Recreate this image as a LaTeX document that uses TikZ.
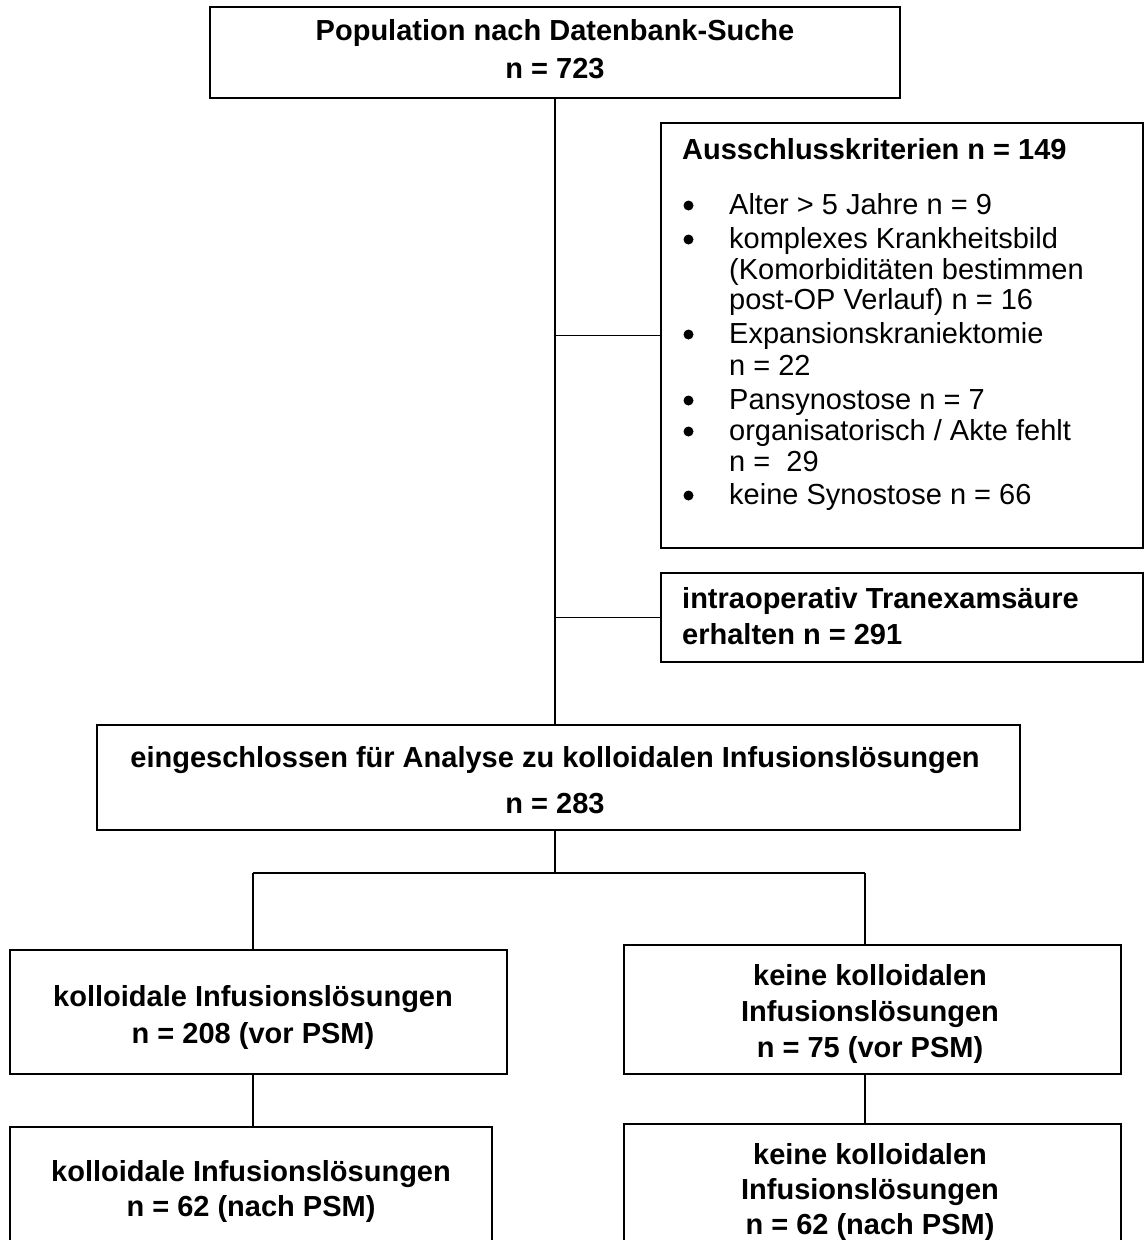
\documentclass[tikz,border=0pt]{standalone}
\usepackage{fontspec}
\setmainfont{Liberation Sans}
\begin{document}
\begin{tikzpicture}[x=1pt,y=-1pt,
  box/.style={draw, line width=2pt, inner sep=0pt, rectangle},
  link/.style={draw, line width=1.2pt},
  btxt/.style={inner sep=0pt, align=center, font=\fontsize{29}{37}\selectfont\bfseries},
  itxt/.style={inner sep=0pt, anchor=base west, font=\fontsize{29}{33}\selectfont},
  bul/.style={circle, fill=black, inner sep=0pt, minimum size=10pt}]
\useasboundingbox (0,0) rectangle (1145,1240);
% boxes
\node[box, minimum width=690pt, minimum height=91pt] (pop) at (555,52.5) {};
\node[box, minimum width=482pt, minimum height=425pt] (aus) at (902,335.5) {};
\node[box, minimum width=482pt, minimum height=89pt] (tra) at (902,617.5) {};
\node[box, minimum width=923pt, minimum height=105pt] (ein) at (558.5,777.5) {};
\node[box, minimum width=497pt, minimum height=124pt] (lb1) at (258.5,1012) {};
\node[box, minimum width=497pt, minimum height=129pt] (rb1) at (872.5,1009.5) {};
\node[box, minimum width=482pt, minimum height=173pt] (lb2) at (251,1213.5) {};
\node[box, minimum width=497pt, minimum height=176pt] (rb2) at (872.5,1212) {};
% texts
\node[btxt, font=\fontsize{29}{38}\selectfont\bfseries] (tpop) at (555,49) {Population nach Datenbank-Suche\\n = 723};
\node[btxt, anchor=base west] (taus) at (682,159) {Ausschlusskriterien n = 149};
\node[btxt, align=left, anchor=west, font=\fontsize{29}{36}\selectfont\bfseries] (ttra) at (682,616) {intraoperativ Tranexamsäure\\erhalten n = 291};
\node[btxt, font=\fontsize{29}{46}\selectfont\bfseries] (tein) at (555,780) {eingeschlossen für Analyse zu kolloidalen Infusionslösungen\\n = 283};
\node[btxt] (tlb1) at (253,1017) {kolloidale Infusionslösungen\\n = 208 (vor PSM)};
\node[btxt, font=\fontsize{29}{36}\selectfont\bfseries] (trb1) at (870,1014) {keine kolloidalen\\Infusionslösungen\\n = 75 (vor PSM)};
\node[btxt, font=\fontsize{29}{35}\selectfont\bfseries] (tlb2) at (251,1191) {kolloidale Infusionslösungen\\n = 62 (nach PSM)};
\node[btxt, font=\fontsize{29}{35}\selectfont\bfseries] (trb2) at (870,1192) {keine kolloidalen\\Infusionslösungen\\n = 62 (nach PSM)};
% bullet list
\foreach \n/\y in {b1/214, b2/248, b3/343, b4/409, b5/440, b6/504}
  \node[bul] (\n) at (688.5,\y-8.5) {};
\node[itxt] (i1) at (729,214) {Alter > 5 Jahre n = 9};
\node[itxt] (i2a) at (729,248) {komplexes Krankheitsbild};
\node[itxt] (i2b) at (729,279) {(Komorbiditäten bestimmen};
\node[itxt] (i2c) at (729,309) {post-OP Verlauf) n = 16};
\node[itxt] (i3a) at (729,343) {Expansionskraniektomie};
\node[itxt] (i3b) at (729,375) {n = 22};
\node[itxt] (i4) at (729,409) {Pansynostose n = 7};
\node[itxt] (i5a) at (729,440) {organisatorisch / Akte fehlt};
\node[itxt] (i5b) at (729,471) {n =\ \ 29};
\node[itxt] (i6) at (729,504) {keine Synostose n = 66};
% connectors
\coordinate (split) at (555,873);
\coordinate (lx) at (253,873);
\coordinate (rx) at (865,873);
\draw[link] (pop.south) -- (pop.south |- ein.north);
\draw[link] (pop.south |- aus.west) -- (aus.west);
\draw[link] (pop.south |- tra.west) -- (tra.west);
\draw[link] (pop.south |- ein.south) -- (split);
\draw[link] (lx) -- (rx);
\draw[link] (lx) -- (lx |- lb1.north);
\draw[link] (rx) -- (rx |- rb1.north);
\draw[link] (lx |- lb1.south) -- (lx |- lb2.north);
\draw[link] (rx |- rb1.south) -- (rx |- rb2.north);
\end{tikzpicture}
\end{document}
